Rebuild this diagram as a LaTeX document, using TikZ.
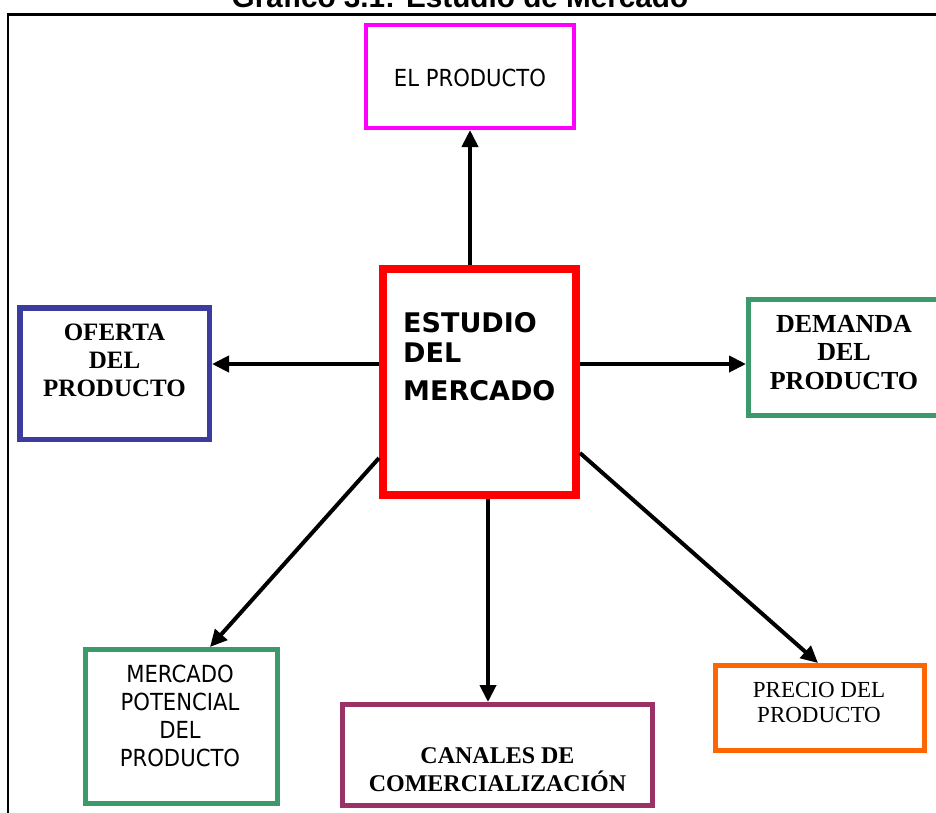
\documentclass[tikz,border=0pt]{standalone}
\usepackage{fontspec}
\setmainfont{Liberation Serif}
\newfontfamily\tahoma{DejaVu Sans}[FakeStretch=0.9]
\newfontfamily\verd{DejaVu Sans}
\newfontfamily\arial{Liberation Sans}
\usetikzlibrary{arrows.meta}

\definecolor{cmag}{HTML}{FF00FF}
\definecolor{cred}{HTML}{FF0000}
\definecolor{cblue}{HTML}{3C3C9E}
\definecolor{cgreen}{HTML}{3A9A6A}
\definecolor{cpurple}{HTML}{993366}
\definecolor{corange}{HTML}{FF6600}

\begin{document}
\begin{tikzpicture}[x=1pt,y=-1pt,
  box/.style={draw, inner sep=0pt},
  arr/.style={line width=4pt, -{Triangle[length=17pt,width=16pt]}},
  lbl/.style={anchor=base, inner sep=0pt},
]
\useasboundingbox (0,0) rectangle (936,812);

% title and frame
\node[lbl] (title) at (460,7.5) {\arial\bfseries\fontsize{29.7}{32}\selectfont Gráfico 3.1: Estudio de Mercado};
\coordinate (fbl) at (8,815);
\coordinate (ftl) at (8,14.5);
\coordinate (ftr) at (940,14.5);
\draw[line width=2.6pt] (fbl) -- (ftl) -- (ftr);

% boxes
\node[box, draw=cmag, line width=4pt, minimum width=208pt, minimum height=103pt] (prod) at (470,76.5) {};
\node[box, draw=cred, line width=8pt, minimum width=193pt, minimum height=226pt] (est) at (479.5,382) {};
\node[box, draw=cblue, line width=5.5pt, minimum width=189.5pt, minimum height=131.5pt] (ofe) at (114.5,373.5) {};
\node[box, draw=cgreen, line width=5pt, minimum width=192pt, minimum height=116pt] (dem) at (844.5,357.5) {};
\node[box, draw=cgreen, line width=5pt, minimum width=192pt, minimum height=154pt] (merc) at (181.5,726.5) {};
\node[box, draw=cpurple, line width=5pt, minimum width=310pt, minimum height=101pt] (can) at (497.5,755) {};
\node[box, draw=corange, line width=5pt, minimum width=209pt, minimum height=85pt] (pre) at (820,708) {};

% texts
\node[lbl] (tprod) at (470,86) {\tahoma\fontsize{23.5}{28}\selectfont EL PRODUCTO};
\node[anchor=base west, inner sep=0pt] (test) at (403,332) {\verd\bfseries\fontsize{27}{30}\selectfont\begin{tabular}[t]{@{}l@{}}ESTUDIO\\DEL\\[8pt]MERCADO\end{tabular}};
\node[lbl] (tofe) at (114.5,340) {\bfseries\fontsize{25}{28}\selectfont\begin{tabular}[t]{@{}c@{}}OFERTA\\DEL\\PRODUCTO\end{tabular}};
\node[lbl] (tdem) at (844,332) {\bfseries\fontsize{26}{28.5}\selectfont\begin{tabular}[t]{@{}c@{}}DEMANDA\\DEL\\PRODUCTO\end{tabular}};
\node[lbl] (tmerc) at (180,682) {\tahoma\fontsize{23.5}{28.3}\selectfont\begin{tabular}[t]{@{}c@{}}MERCADO\\POTENCIAL\\DEL\\PRODUCTO\end{tabular}};
\node[lbl] (tcan) at (497.5,763) {\bfseries\fontsize{24}{27}\selectfont\begin{tabular}[t]{@{}c@{}}CANALES DE\\COMERCIALIZACIÓN\end{tabular}};
\node[lbl] (tpre) at (819,697) {\fontsize{23}{25}\selectfont\begin{tabular}[t]{@{}c@{}}PRECIO DEL\\PRODUCTO\end{tabular}};

% connectors
\draw[arr] (est.north -| prod.south) -- (prod.south);
\draw[arr] ([yshift=18pt]est.west) -- ([yshift=18pt]est.west -| ofe.east);
\draw[arr] ([yshift=18pt]est.east) -- ([yshift=18pt]est.east -| dem.west);
\draw[arr] ([yshift=-76pt]est.west) -- ([xshift=28.5pt]merc.north);
\draw[arr] ([xshift=8.5pt]est.south) -- ([xshift=8.5pt]est.south |- can.north);
\draw[arr] ([yshift=-71pt]est.east) -- ([xshift=-2pt]pre.north);
\end{tikzpicture}
\end{document}
